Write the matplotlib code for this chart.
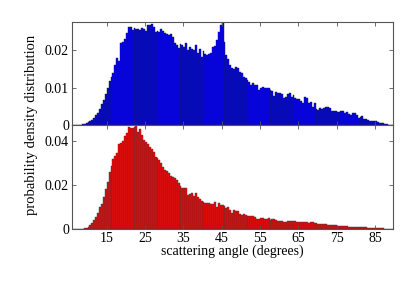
import numpy as np
import matplotlib
matplotlib.use("Agg")
import matplotlib.pyplot as plt

plt.rcParams["font.family"] = ["Liberation Serif", "DejaVu Serif"]

# scattering angle bins, 0.5 degree wide
bin_edges = np.arange(6.0, 90.01, 0.5)

# top panel (blue)
density_top = [
    0.0000, 0.0000, 0.0000, 0.0001, 0.0001, 0.0002, 0.0002, 0.0004, 0.0007, 0.0010,
    0.0014, 0.0019, 0.0026, 0.0033, 0.0042, 0.0055, 0.0068, 0.0082, 0.0100, 0.0118,
    0.0130, 0.0140, 0.0162, 0.0180, 0.0172, 0.0220, 0.0222, 0.0230, 0.0248, 0.0264,
    0.0262, 0.0255, 0.0259, 0.0257, 0.0258, 0.0255, 0.0260, 0.0258, 0.0252, 0.0268,
    0.0267, 0.0270, 0.0264, 0.0250, 0.0253, 0.0250, 0.0257, 0.0251, 0.0246, 0.0243,
    0.0241, 0.0244, 0.0236, 0.0219, 0.0215, 0.0206, 0.0216, 0.0214, 0.0209, 0.0219,
    0.0201, 0.0209, 0.0205, 0.0201, 0.0214, 0.0192, 0.0203, 0.0183, 0.0198, 0.0190,
    0.0189, 0.0190, 0.0192, 0.0210, 0.0212, 0.0228, 0.0250, 0.0268, 0.0277, 0.0222,
    0.0188, 0.0177, 0.0161, 0.0152, 0.0150, 0.0156, 0.0152, 0.0141, 0.0139, 0.0130,
    0.0125, 0.0121, 0.0116, 0.0107, 0.0112, 0.0107, 0.0106, 0.0094, 0.0098, 0.0103,
    0.0100, 0.0098, 0.0100, 0.0094, 0.0090, 0.0079, 0.0088, 0.0085, 0.0085, 0.0083,
    0.0073, 0.0076, 0.0082, 0.0085, 0.0076, 0.0080, 0.0073, 0.0071, 0.0070, 0.0064,
    0.0058, 0.0076, 0.0073, 0.0058, 0.0062, 0.0049, 0.0058, 0.0042, 0.0040, 0.0046,
    0.0043, 0.0046, 0.0049, 0.0048, 0.0046, 0.0038, 0.0038, 0.0038, 0.0036, 0.0036,
    0.0038, 0.0038, 0.0031, 0.0036, 0.0029, 0.0027, 0.0031, 0.0031, 0.0027, 0.0020,
    0.0022, 0.0024, 0.0017, 0.0015, 0.0014, 0.0012, 0.0012, 0.0010, 0.0010, 0.0007,
    0.0005, 0.0005, 0.0004, 0.0003, 0.0002, 0.0001, 0.0001, 0.0000,
]

# bottom panel (red)
density_bottom = [
    0.0001, 0.0001, 0.0001, 0.0001, 0.0001, 0.0002, 0.0003, 0.0005, 0.0010, 0.0018,
    0.0028, 0.0040, 0.0055, 0.0072, 0.0098, 0.0112, 0.0145, 0.0180, 0.0215, 0.0260,
    0.0285, 0.0320, 0.0330, 0.0344, 0.0386, 0.0390, 0.0402, 0.0425, 0.0435, 0.0462,
    0.0460, 0.0458, 0.0466, 0.0473, 0.0442, 0.0453, 0.0427, 0.0404, 0.0397, 0.0385,
    0.0375, 0.0365, 0.0351, 0.0329, 0.0322, 0.0316, 0.0300, 0.0280, 0.0270, 0.0265,
    0.0256, 0.0242, 0.0238, 0.0230, 0.0222, 0.0211, 0.0195, 0.0185, 0.0185, 0.0185,
    0.0154, 0.0159, 0.0165, 0.0150, 0.0162, 0.0144, 0.0135, 0.0128, 0.0124, 0.0120,
    0.0118, 0.0117, 0.0114, 0.0114, 0.0124, 0.0101, 0.0117, 0.0109, 0.0110, 0.0104,
    0.0094, 0.0098, 0.0086, 0.0071, 0.0086, 0.0084, 0.0080, 0.0068, 0.0064, 0.0067,
    0.0064, 0.0061, 0.0061, 0.0060, 0.0059, 0.0056, 0.0044, 0.0046, 0.0048, 0.0048,
    0.0044, 0.0045, 0.0048, 0.0041, 0.0045, 0.0045, 0.0040, 0.0038, 0.0038, 0.0036,
    0.0034, 0.0030, 0.0038, 0.0036, 0.0038, 0.0037, 0.0036, 0.0034, 0.0033, 0.0031,
    0.0030, 0.0033, 0.0031, 0.0029, 0.0030, 0.0032, 0.0027, 0.0026, 0.0023, 0.0024,
    0.0023, 0.0022, 0.0021, 0.0019, 0.0018, 0.0018, 0.0017, 0.0017, 0.0015, 0.0014,
    0.0015, 0.0014, 0.0014, 0.0012, 0.0011, 0.0011, 0.0010, 0.0009, 0.0009, 0.0008,
    0.0008, 0.0008, 0.0008, 0.0007, 0.0006, 0.0006, 0.0006, 0.0005, 0.0005, 0.0005,
    0.0004, 0.0003, 0.0003, 0.0002, 0.0002, 0.0001, 0.0001, 0.0001,
]

x_ticks = [15, 25, 35, 45, 55, 65, 75, 85]
top_yticks = [0, 0.01, 0.02]
top_ylabels = ["0", "0.01", "0.02"]
bottom_yticks = [0, 0.02, 0.04]
bottom_ylabels = ["0", "0.02", "0.04"]

fig = plt.figure(figsize=(4.15, 2.84), dpi=100)
ax_top = fig.add_axes([0.1728, 0.5599, 0.7749, 0.3637])
ax_bot = fig.add_axes([0.1728, 0.1937, 0.7749, 0.3662])

# thin dark outlines give the mixed shading seen in the original
ax_top.bar(bin_edges[:-1], density_top, width=0.5, align="edge",
           color="#0000ff", edgecolor="#1c1c48", linewidth=0.3)
ax_bot.bar(bin_edges[:-1], density_bottom, width=0.5, align="edge",
           color="#ff0000", edgecolor="#3c3c3c", linewidth=0.3)

for ax in (ax_top, ax_bot):
    ax.set_xlim(5.86, 89.8)
    ax.set_xticks(x_ticks)
    ax.tick_params(direction="in", top=True, right=True, length=3,
                   width=0.6, color="#555555", labelsize=10, pad=2)
    for s in ax.spines.values():
        s.set_color("#555555")
        s.set_linewidth(0.8)

ax_top.set_ylim(0, 0.0277)
ax_top.set_yticks(top_yticks)
ax_top.set_yticklabels(top_ylabels)
ax_top.set_xticklabels([])

ax_bot.set_ylim(0, 0.0473)
ax_bot.set_yticks(bottom_yticks)
ax_bot.set_yticklabels(bottom_ylabels)
ax_bot.set_xlabel("scattering angle (degrees)", fontsize=10, labelpad=0)

fig.text(0.075, 0.56, "probability density distribution", rotation=90,
         ha="center", va="center", fontsize=10.5)

plt.savefig("out.png", dpi=100)
